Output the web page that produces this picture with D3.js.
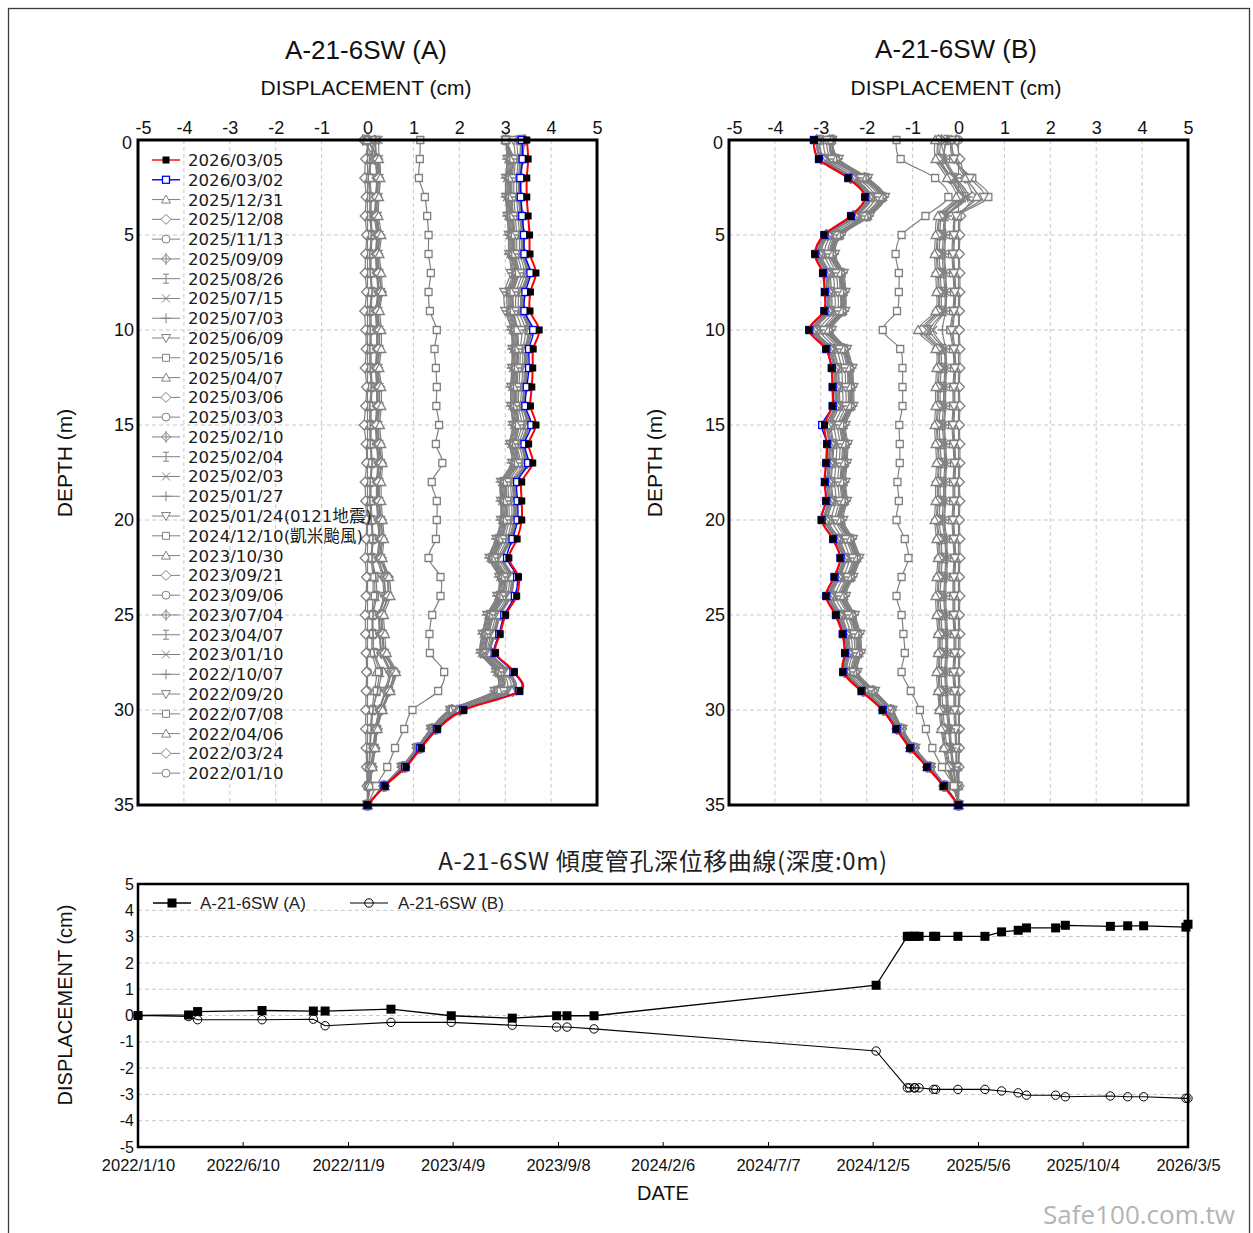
<!DOCTYPE html>
<html><head><meta charset="utf-8">
<script src="https://cdn.jsdelivr.net/npm/d3@7"></script>
<style>body{margin:0;background:#fff}svg{display:block}</style>
</head><body>
<svg id="c" width="1253" height="1233"></svg>
<script>
// ---------------- DATA ----------------
const depths = [0,1,2,3,4,5,6,7,8,9,10,11,12,13,14,15,16,17,18,19,20,21,22,23,24,25,26,27,28,29,30,31,32,33,34,35];
const seriesDates = ["2026/03/05","2026/03/02","2025/12/31","2025/12/08","2025/11/13","2025/09/09","2025/08/26","2025/07/15","2025/07/03","2025/06/09","2025/05/16","2025/04/07","2025/03/06","2025/03/03","2025/02/10","2025/02/04","2025/02/03","2025/01/27","2025/01/24","2024/12/10","2023/10/30","2023/09/21","2023/09/06","2023/07/04","2023/04/07","2023/01/10","2022/10/07","2022/09/20","2022/07/08","2022/04/06","2022/03/24","2022/01/10"];
const legendLabels = ["2026/03/05","2026/03/02","2025/12/31","2025/12/08","2025/11/13","2025/09/09","2025/08/26","2025/07/15","2025/07/03","2025/06/09","2025/05/16","2025/04/07","2025/03/06","2025/03/03","2025/02/10","2025/02/04","2025/02/03","2025/01/27","2025/01/24(0121地震)","2024/12/10(凱米颱風)","2023/10/30","2023/09/21","2023/09/06","2023/07/04","2023/04/07","2023/01/10","2022/10/07","2022/09/20","2022/07/08","2022/04/06","2022/03/24","2022/01/10"];
const markerCycle = ["triUp","diamond","circle","diamondPlus","ibeam","x","plus","triDown","square"];
const dispTicks = [-5,-4,-3,-2,-1,0,1,2,3,4,5];
const depthTicks = [0,5,10,15,20,25,30,35];
const timeTickLabels = ["2022/1/10","2022/6/10","2022/11/9","2023/4/9","2023/9/8","2024/2/6","2024/7/7","2024/12/5","2025/5/6","2025/10/4","2026/3/5"];

// Profile A (rows in legend order, values at depths 0..35, cm)
const profileA = [
[3.47,3.50,3.47,3.47,3.50,3.53,3.54,3.67,3.55,3.54,3.74,3.61,3.60,3.58,3.55,3.67,3.51,3.60,3.36,3.36,3.36,3.26,3.08,3.29,3.25,3.01,2.89,2.79,3.20,3.32,2.10,1.53,1.17,0.84,0.38,0],
[3.36,3.38,3.33,3.34,3.37,3.41,3.42,3.55,3.44,3.42,3.61,3.52,3.52,3.47,3.44,3.57,3.42,3.50,3.26,3.27,3.27,3.16,3.04,3.26,3.21,2.98,2.87,2.77,3.18,3.30,2.08,1.51,1.15,0.82,0.37,0],
[3.41,3.36,3.33,3.33,3.36,3.39,3.40,3.51,3.39,3.39,3.55,3.47,3.46,3.44,3.41,3.51,3.38,3.46,3.22,3.22,3.22,3.12,2.94,3.15,3.11,2.88,2.77,2.68,3.07,3.15,2.00,1.48,1.14,0.81,0.37,0],
[3.41,3.37,3.34,3.34,3.37,3.40,3.41,3.52,3.40,3.40,3.56,3.48,3.47,3.45,3.42,3.52,3.39,3.47,3.23,3.23,3.23,3.13,2.95,3.16,3.12,2.89,2.78,2.69,3.08,3.16,2.01,1.48,1.14,0.81,0.37,0],
[3.39,3.34,3.31,3.31,3.34,3.37,3.38,3.49,3.37,3.37,3.53,3.45,3.44,3.42,3.39,3.49,3.36,3.44,3.20,3.20,3.20,3.10,2.92,3.13,3.09,2.86,2.75,2.66,3.05,3.13,1.99,1.47,1.13,0.80,0.37,0],
[3.43,3.38,3.35,3.35,3.38,3.41,3.42,3.53,3.41,3.41,3.57,3.49,3.48,3.46,3.43,3.53,3.40,3.48,3.24,3.24,3.24,3.14,2.96,3.17,3.13,2.90,2.79,2.70,3.09,3.17,2.02,1.49,1.15,0.82,0.37,0],
[3.33,3.34,3.31,3.31,3.34,3.37,3.38,3.49,3.37,3.37,3.52,3.45,3.44,3.42,3.40,3.49,3.37,3.44,3.20,3.20,3.20,3.10,2.93,3.14,3.10,2.87,2.76,2.68,3.06,3.12,1.99,1.48,1.14,0.81,0.37,0],
[3.33,3.32,3.29,3.29,3.32,3.35,3.36,3.47,3.35,3.35,3.50,3.43,3.42,3.40,3.38,3.47,3.35,3.42,3.18,3.18,3.18,3.08,2.91,3.12,3.08,2.85,2.74,2.66,3.04,3.10,1.98,1.47,1.13,0.80,0.37,0],
[3.24,3.28,3.25,3.25,3.28,3.31,3.32,3.42,3.30,3.30,3.44,3.39,3.38,3.36,3.34,3.42,3.31,3.38,3.14,3.14,3.14,3.04,2.87,3.08,3.04,2.81,2.70,2.63,3.00,3.05,1.95,1.46,1.12,0.79,0.37,0],
[3.18,3.22,3.19,3.19,3.22,3.25,3.26,3.36,3.24,3.24,3.36,3.33,3.32,3.30,3.29,3.36,3.26,3.32,3.08,3.08,3.08,2.98,2.82,3.03,2.99,2.76,2.65,2.59,2.95,2.97,1.91,1.44,1.11,0.78,0.36,0],
[3.01,3.18,3.15,3.15,3.18,3.21,3.22,3.30,3.18,3.19,3.27,3.29,3.28,3.26,3.26,3.30,3.24,3.28,3.04,3.04,3.04,2.94,2.79,3.00,2.96,2.74,2.64,2.60,2.93,2.90,1.86,1.43,1.11,0.77,0.36,0],
[3.01,3.16,3.13,3.13,3.16,3.19,3.20,3.28,3.16,3.17,3.25,3.27,3.26,3.24,3.24,3.28,3.22,3.26,3.02,3.02,3.02,2.92,2.77,2.98,2.94,2.72,2.62,2.58,2.91,2.88,1.85,1.42,1.10,0.77,0.36,0],
[3.01,3.15,3.12,3.12,3.15,3.18,3.19,3.27,3.15,3.16,3.24,3.26,3.25,3.23,3.23,3.27,3.21,3.25,3.01,3.01,3.01,2.91,2.76,2.97,2.93,2.71,2.61,2.57,2.90,2.87,1.85,1.42,1.10,0.77,0.36,0],
[3.01,3.13,3.10,3.10,3.13,3.16,3.17,3.25,3.13,3.14,3.22,3.24,3.23,3.21,3.21,3.25,3.19,3.23,2.99,2.99,2.99,2.89,2.74,2.95,2.91,2.69,2.59,2.55,2.88,2.85,1.84,1.41,1.09,0.76,0.36,0],
[3.01,3.11,3.08,3.08,3.11,3.14,3.15,3.23,3.11,3.12,3.20,3.22,3.21,3.19,3.19,3.23,3.17,3.21,2.97,2.97,2.97,2.87,2.72,2.93,2.89,2.67,2.57,2.53,2.86,2.83,1.83,1.40,1.09,0.76,0.35,0],
[3.01,3.09,3.06,3.06,3.09,3.12,3.13,3.21,3.09,3.10,3.18,3.20,3.19,3.17,3.17,3.21,3.15,3.19,2.95,2.95,2.95,2.85,2.70,2.91,2.87,2.65,2.55,2.51,2.84,2.81,1.82,1.39,1.08,0.75,0.35,0],
[3.01,3.07,3.04,3.04,3.07,3.10,3.11,3.19,3.07,3.08,3.16,3.18,3.17,3.15,3.15,3.19,3.13,3.17,2.93,2.93,2.93,2.83,2.68,2.89,2.85,2.63,2.53,2.49,2.82,2.79,1.81,1.39,1.08,0.75,0.35,0],
[3.01,3.04,3.01,3.01,3.04,3.07,3.08,3.16,3.04,3.05,3.13,3.15,3.14,3.12,3.12,3.16,3.10,3.14,2.90,2.90,2.90,2.80,2.65,2.86,2.82,2.60,2.50,2.46,2.79,2.76,1.79,1.38,1.07,0.74,0.35,0],
[3.01,3.05,3.02,3.02,3.05,3.08,3.09,3.12,2.98,3.00,3.14,3.16,3.15,3.13,3.13,3.17,3.11,3.15,2.91,2.91,2.91,2.81,2.66,2.87,2.83,2.61,2.51,2.47,2.80,2.77,1.80,1.38,1.07,0.74,0.35,0],
[1.15,1.14,1.12,1.25,1.30,1.33,1.33,1.38,1.33,1.36,1.51,1.46,1.49,1.51,1.50,1.56,1.49,1.63,1.40,1.51,1.51,1.49,1.33,1.59,1.59,1.41,1.35,1.36,1.67,1.54,0.98,0.80,0.60,0.43,0.19,0],
[-0.01,0.25,0.28,0.25,0.24,0.3,0.26,0.3,0.32,0.27,0.3,0.3,0.26,0.3,0.3,0.27,0.3,0.33,0.3,0.3,0.33,0.36,0.33,0.47,0.5,0.36,0.38,0.42,0.62,0.5,0.33,0.22,0.17,0.11,0.06,0],
[-0.01,0.22,0.24,0.2,0.2,0.26,0.22,0.24,0.3,0.22,0.26,0.24,0.22,0.26,0.24,0.2,0.26,0.3,0.24,0.25,0.3,0.32,0.3,0.45,0.45,0.32,0.34,0.38,0.6,0.48,0.31,0.21,0.16,0.1,0.05,0],
[-0.01,0.2,0.22,0.22,0.18,0.24,0.2,0.26,0.28,0.2,0.24,0.26,0.2,0.24,0.26,0.22,0.24,0.28,0.26,0.24,0.28,0.3,0.28,0.42,0.44,0.3,0.32,0.36,0.56,0.46,0.3,0.2,0.15,0.1,0.05,0],
[-0.10,0.15,0.2,0.18,0.15,0.2,0.18,0.2,0.24,0.18,0.2,0.2,0.18,0.2,0.2,0.18,0.2,0.24,0.2,0.2,0.24,0.26,0.24,0.36,0.38,0.26,0.28,0.3,0.5,0.4,0.26,0.18,0.13,0.08,0.04,0],
[-0.01,0.05,0.02,0.05,0.06,0.08,0.05,0.06,0.1,0.05,0.06,0.05,0.06,0.08,0.05,0.06,0.06,0.1,0.06,0.05,0.08,0.12,0.1,0.18,0.2,0.12,0.12,0.15,0.3,0.22,0.12,0.08,0.06,0.04,0.02,0],
[0.24,0.25,0.26,0.24,0.22,0.26,0.24,0.26,0.3,0.24,0.26,0.26,0.24,0.26,0.26,0.24,0.26,0.3,0.26,0.26,0.3,0.32,0.3,0.42,0.45,0.32,0.34,0.38,0.58,0.47,0.32,0.21,0.16,0.1,0.05,0],
[0.17,0.2,0.22,0.2,0.2,0.22,0.2,0.22,0.25,0.2,0.22,0.22,0.2,0.22,0.22,0.2,0.22,0.25,0.22,0.22,0.25,0.27,0.25,0.35,0.38,0.27,0.28,0.32,0.5,0.4,0.27,0.18,0.13,0.09,0.04,0],
[0.17,0.18,0.2,0.18,0.18,0.2,0.18,0.2,0.22,0.18,0.2,0.2,0.18,0.2,0.2,0.18,0.2,0.22,0.2,0.2,0.22,0.25,0.22,0.32,0.35,0.25,0.26,0.3,0.46,0.38,0.25,0.17,0.12,0.08,0.04,0],
[0.19,0.08,0.06,0.08,0.08,0.1,0.08,0.08,0.1,0.08,0.08,0.08,0.08,0.1,0.08,0.08,0.08,0.1,0.08,0.08,0.1,0.12,0.1,0.15,0.16,0.12,0.12,0.14,0.25,0.2,0.12,0.08,0.06,0.04,0.02,0],
[0.15,0.06,0.04,0.06,0.05,0.08,0.06,0.06,0.08,0.05,0.06,0.06,0.05,0.08,0.06,0.05,0.06,0.08,0.06,0.06,0.08,0.1,0.08,0.12,0.12,0.1,0.1,0.1,0.2,0.15,0.1,0.06,0.05,0.03,0.02,0],
[0.02,-0.04,-0.06,-0.03,-0.05,-0.02,-0.04,-0.05,-0.02,-0.06,-0.04,-0.03,-0.05,-0.02,-0.04,-0.07,-0.03,-0.02,-0.05,-0.04,-0.02,-0.03,-0.05,-0.02,-0.03,-0.05,-0.04,-0.03,-0.02,-0.03,-0.04,-0.04,-0.03,-0.02,-0.01,0],
[0,0,0,0,0,0,0,0,0,0,0,0,0,0,0,0,0,0,0,0,0,0,0,0,0,0,0,0,0,0,0,0,0,0,0,0]
];

// Profile B
const profileB = [
[-3.15,-3.05,-2.41,-2.04,-2.35,-2.93,-3.13,-2.96,-2.92,-2.93,-3.26,-2.89,-2.77,-2.75,-2.75,-2.92,-2.87,-2.89,-2.92,-2.89,-2.99,-2.74,-2.58,-2.71,-2.89,-2.68,-2.53,-2.48,-2.52,-2.12,-1.66,-1.36,-1.06,-0.69,-0.33,0],
[-3.15,-3.04,-2.40,-2.03,-2.34,-2.92,-3.12,-2.95,-2.91,-2.92,-3.25,-2.88,-2.76,-2.74,-2.74,-2.97,-2.86,-2.88,-2.91,-2.88,-2.98,-2.73,-2.57,-2.70,-2.88,-2.67,-2.52,-2.47,-2.51,-2.11,-1.65,-1.35,-1.05,-0.68,-0.32,0],
[-3.09,-2.99,-2.35,-1.98,-2.29,-2.88,-3.07,-2.90,-2.86,-2.87,-3.19,-2.83,-2.71,-2.69,-2.69,-2.86,-2.81,-2.83,-2.86,-2.83,-2.92,-2.68,-2.52,-2.65,-2.83,-2.63,-2.48,-2.43,-2.48,-2.08,-1.63,-1.34,-1.05,-0.68,-0.32,0],
[-3.09,-2.97,-2.33,-1.96,-2.27,-2.86,-3.05,-2.88,-2.84,-2.85,-3.17,-2.81,-2.69,-2.67,-2.67,-2.84,-2.79,-2.81,-2.84,-2.81,-2.90,-2.66,-2.50,-2.63,-2.81,-2.61,-2.46,-2.41,-2.46,-2.06,-1.62,-1.33,-1.04,-0.67,-0.32,0],
[-3.06,-2.96,-2.32,-1.95,-2.26,-2.85,-3.04,-2.86,-2.82,-2.83,-3.15,-2.79,-2.67,-2.65,-2.65,-2.82,-2.77,-2.79,-2.82,-2.79,-2.89,-2.65,-2.49,-2.62,-2.80,-2.60,-2.45,-2.40,-2.46,-2.06,-1.61,-1.33,-1.04,-0.67,-0.32,0],
[-3.09,-3.00,-2.36,-1.99,-2.30,-2.89,-3.08,-2.91,-2.87,-2.88,-3.20,-2.84,-2.72,-2.70,-2.70,-2.87,-2.82,-2.84,-2.87,-2.84,-2.93,-2.69,-2.53,-2.66,-2.84,-2.64,-2.49,-2.44,-2.49,-2.09,-1.64,-1.35,-1.05,-0.68,-0.32,0],
[-3.03,-2.91,-2.27,-1.90,-2.22,-2.81,-2.99,-2.81,-2.77,-2.78,-3.10,-2.74,-2.62,-2.60,-2.60,-2.77,-2.72,-2.74,-2.77,-2.74,-2.84,-2.60,-2.45,-2.58,-2.75,-2.55,-2.41,-2.36,-2.42,-2.02,-1.59,-1.31,-1.02,-0.66,-0.31,0],
[-3.03,-2.93,-2.29,-1.92,-2.24,-2.83,-3.01,-2.83,-2.79,-2.80,-3.12,-2.76,-2.64,-2.62,-2.62,-2.79,-2.74,-2.76,-2.79,-2.76,-2.86,-2.62,-2.47,-2.60,-2.77,-2.57,-2.43,-2.38,-2.44,-2.04,-1.60,-1.32,-1.03,-0.67,-0.32,0],
[-2.94,-2.84,-2.20,-1.83,-2.15,-2.75,-2.92,-2.74,-2.70,-2.71,-3.02,-2.67,-2.55,-2.53,-2.53,-2.70,-2.65,-2.67,-2.70,-2.67,-2.76,-2.53,-2.38,-2.51,-2.68,-2.48,-2.35,-2.31,-2.37,-1.98,-1.56,-1.30,-1.01,-0.65,-0.31,0],
[-2.87,-2.77,-2.13,-1.76,-2.08,-2.69,-2.85,-2.67,-2.63,-2.64,-2.94,-2.60,-2.48,-2.46,-2.46,-2.63,-2.58,-2.60,-2.63,-2.60,-2.68,-2.46,-2.31,-2.44,-2.61,-2.41,-2.29,-2.26,-2.32,-1.93,-1.52,-1.28,-0.99,-0.63,-0.30,0],
[-2.81,-2.73,-2.09,-1.72,-2.05,-2.65,-2.81,-2.62,-2.58,-2.59,-2.89,-2.55,-2.43,-2.41,-2.41,-2.58,-2.53,-2.55,-2.58,-2.55,-2.64,-2.42,-2.28,-2.41,-2.57,-2.38,-2.25,-2.23,-2.30,-1.91,-1.50,-1.27,-0.98,-0.62,-0.30,0],
[-2.81,-2.71,-2.07,-1.70,-2.03,-2.63,-2.79,-2.60,-2.56,-2.57,-2.87,-2.53,-2.41,-2.39,-2.39,-2.56,-2.51,-2.53,-2.56,-2.53,-2.62,-2.40,-2.26,-2.39,-2.55,-2.36,-2.23,-2.21,-2.28,-1.89,-1.49,-1.26,-0.98,-0.62,-0.30,0],
[-2.81,-2.69,-2.05,-1.68,-2.01,-2.61,-2.77,-2.58,-2.54,-2.55,-2.85,-2.51,-2.39,-2.37,-2.37,-2.54,-2.49,-2.51,-2.54,-2.51,-2.60,-2.38,-2.24,-2.37,-2.53,-2.34,-2.21,-2.19,-2.26,-1.87,-1.48,-1.25,-0.97,-0.62,-0.30,0],
[-2.81,-2.68,-2.04,-1.67,-2.00,-2.60,-2.76,-2.57,-2.53,-2.54,-2.84,-2.50,-2.38,-2.36,-2.36,-2.53,-2.48,-2.50,-2.53,-2.50,-2.59,-2.37,-2.23,-2.36,-2.52,-2.33,-2.20,-2.18,-2.25,-1.86,-1.47,-1.25,-0.97,-0.61,-0.30,0],
[-2.75,-2.68,-2.04,-1.67,-2.00,-2.61,-2.76,-2.57,-2.53,-2.54,-2.83,-2.50,-2.38,-2.36,-2.36,-2.53,-2.48,-2.50,-2.53,-2.50,-2.58,-2.37,-2.23,-2.36,-2.52,-2.33,-2.21,-2.19,-2.26,-1.87,-1.47,-1.25,-0.97,-0.62,-0.30,0],
[-2.75,-2.66,-2.02,-1.65,-1.98,-2.59,-2.74,-2.55,-2.51,-2.52,-2.81,-2.48,-2.36,-2.34,-2.34,-2.51,-2.46,-2.48,-2.51,-2.48,-2.56,-2.35,-2.21,-2.34,-2.50,-2.31,-2.19,-2.17,-2.25,-1.86,-1.46,-1.24,-0.96,-0.61,-0.29,0],
[-2.75,-2.65,-2.01,-1.64,-1.97,-2.58,-2.73,-2.54,-2.50,-2.51,-2.80,-2.47,-2.35,-2.33,-2.33,-2.50,-2.45,-2.47,-2.50,-2.47,-2.55,-2.34,-2.20,-2.33,-2.49,-2.30,-2.18,-2.16,-2.24,-1.85,-1.46,-1.24,-0.96,-0.61,-0.29,0],
[-2.75,-2.63,-1.99,-1.62,-1.95,-2.56,-2.71,-2.52,-2.48,-2.49,-2.78,-2.45,-2.33,-2.31,-2.31,-2.48,-2.43,-2.45,-2.48,-2.45,-2.53,-2.32,-2.18,-2.31,-2.47,-2.28,-2.16,-2.14,-2.22,-1.84,-1.45,-1.23,-0.95,-0.60,-0.29,0],
[-2.75,-2.61,-1.97,-1.60,-1.93,-2.54,-2.69,-2.50,-2.46,-2.47,-2.76,-2.43,-2.31,-2.29,-2.29,-2.46,-2.41,-2.43,-2.46,-2.43,-2.51,-2.30,-2.16,-2.29,-2.45,-2.26,-2.14,-2.12,-2.20,-1.82,-1.44,-1.22,-0.94,-0.60,-0.28,0],
[-1.35,-1.26,-0.51,-0.22,-0.72,-1.24,-1.37,-1.30,-1.30,-1.34,-1.65,-1.27,-1.22,-1.22,-1.22,-1.29,-1.28,-1.28,-1.33,-1.30,-1.35,-1.17,-1.09,-1.24,-1.35,-1.24,-1.20,-1.17,-1.24,-1.04,-0.84,-0.71,-0.57,-0.36,-0.10,0],
[-0.51,-0.5,-0.25,-0.05,-0.45,-0.5,-0.52,-0.5,-0.48,-0.5,-0.88,-0.5,-0.48,-0.5,-0.5,-0.52,-0.5,-0.48,-0.5,-0.5,-0.52,-0.48,-0.45,-0.48,-0.5,-0.48,-0.45,-0.45,-0.48,-0.45,-0.42,-0.38,-0.32,-0.25,-0.12,0],
[-0.44,-0.45,-0.2,0.0,-0.4,-0.46,-0.48,-0.46,-0.44,-0.46,-0.8,-0.46,-0.44,-0.46,-0.46,-0.48,-0.46,-0.44,-0.46,-0.46,-0.48,-0.44,-0.42,-0.44,-0.46,-0.44,-0.42,-0.42,-0.44,-0.42,-0.4,-0.35,-0.3,-0.22,-0.1,0],
[-0.44,-0.42,-0.18,0.02,-0.38,-0.44,-0.46,-0.44,-0.42,-0.44,-0.75,-0.44,-0.42,-0.44,-0.44,-0.46,-0.44,-0.42,-0.44,-0.44,-0.46,-0.42,-0.4,-0.42,-0.44,-0.42,-0.4,-0.4,-0.42,-0.4,-0.38,-0.33,-0.28,-0.2,-0.1,0],
[-0.37,-0.4,-0.15,0.05,-0.35,-0.4,-0.42,-0.4,-0.38,-0.4,-0.7,-0.4,-0.38,-0.4,-0.4,-0.42,-0.4,-0.38,-0.4,-0.4,-0.42,-0.38,-0.36,-0.38,-0.4,-0.38,-0.36,-0.36,-0.38,-0.36,-0.34,-0.3,-0.25,-0.18,-0.08,0],
[-0.26,-0.32,-0.1,0.1,-0.28,-0.33,-0.35,-0.33,-0.3,-0.32,-0.62,-0.33,-0.3,-0.32,-0.33,-0.35,-0.32,-0.3,-0.32,-0.33,-0.35,-0.3,-0.28,-0.3,-0.32,-0.3,-0.28,-0.28,-0.3,-0.28,-0.26,-0.22,-0.18,-0.13,-0.06,0],
[-0.26,-0.3,-0.08,0.15,-0.26,-0.3,-0.32,-0.3,-0.28,-0.3,-0.55,-0.3,-0.28,-0.3,-0.3,-0.32,-0.3,-0.28,-0.3,-0.3,-0.32,-0.28,-0.26,-0.28,-0.3,-0.28,-0.26,-0.26,-0.28,-0.26,-0.24,-0.2,-0.16,-0.12,-0.05,0],
[-0.39,-0.28,-0.05,0.2,-0.25,-0.28,-0.3,-0.28,-0.26,-0.28,-0.35,-0.28,-0.26,-0.28,-0.28,-0.3,-0.28,-0.26,-0.28,-0.28,-0.3,-0.26,-0.24,-0.26,-0.28,-0.26,-0.24,-0.24,-0.26,-0.24,-0.22,-0.18,-0.15,-0.1,-0.05,0],
[-0.14,-0.1,0.25,0.55,-0.05,-0.1,-0.12,-0.1,-0.08,-0.1,-0.15,-0.1,-0.08,-0.1,-0.1,-0.12,-0.1,-0.08,-0.1,-0.1,-0.12,-0.1,-0.08,-0.1,-0.1,-0.1,-0.08,-0.08,-0.1,-0.08,-0.08,-0.06,-0.05,-0.04,-0.02,0],
[-0.16,-0.12,0.3,0.65,-0.02,-0.12,-0.14,-0.12,-0.1,-0.12,-0.18,-0.12,-0.1,-0.12,-0.12,-0.14,-0.12,-0.1,-0.12,-0.12,-0.14,-0.12,-0.1,-0.12,-0.12,-0.12,-0.1,-0.1,-0.12,-0.1,-0.1,-0.08,-0.06,-0.05,-0.02,0],
[-0.16,-0.08,0.15,0.4,-0.04,-0.08,-0.1,-0.08,-0.06,-0.08,-0.12,-0.08,-0.06,-0.08,-0.08,-0.1,-0.08,-0.06,-0.08,-0.08,-0.1,-0.08,-0.06,-0.08,-0.08,-0.08,-0.06,-0.06,-0.08,-0.06,-0.06,-0.05,-0.04,-0.03,-0.01,0],
[-0.04,0.03,0.15,0.3,0.05,0.03,0.02,0.03,0.03,0.02,0.02,0.03,0.03,0.02,0.03,0.02,0.03,0.03,0.02,0.03,0.02,0.03,0.03,0.02,0.03,0.02,0.03,0.03,0.02,0.03,0.02,0.02,0.02,0.01,0.01,0],
[0,0,0,0,0,0,0,0,0,0,0,0,0,0,0,0,0,0,0,0,0,0,0,0,0,0,0,0,0,0,0,0,0,0,0,0]
];

// ---------------- DRAWING ----------------
const svg = d3.select("#c");
const SANS = "'Liberation Sans', Arial, sans-serif";
const LEG = "'DejaVu Sans', 'Noto Sans CJK TC', sans-serif";
const GRAY = "#808080";
const GRID = "#c8c8c8";
const plainFmt = d => String(d);

svg.append("rect").attr("x",8.5).attr("y",8.5).attr("width",1241).attr("height",1240)
  .attr("fill","none").attr("stroke","#3a3a3a").attr("stroke-width",1.3);

function kindFor(i){ if(i===0) return "sqFill"; if(i===1) return "sqBlue"; return markerCycle[(i-2)%markerCycle.length]; }
function colorFor(i){ return i===0 ? "#ff0000" : (i===1 ? "#0000ff" : GRAY); }

function drawMarker(g, kind, cx, cy, stroke, sw){
  sw = sw || 1.3;
  if(kind==="sqFill"){ g.append("rect").attr("x",cx-3.5).attr("y",cy-3.5).attr("width",7).attr("height",7).attr("fill","#000"); return; }
  if(kind==="sqBlue"){ g.append("rect").attr("x",cx-3.5).attr("y",cy-3.5).attr("width",7).attr("height",7).attr("fill","#fff").attr("stroke","#0000ff").attr("stroke-width",1.3); return; }
  const P = (d)=>g.append("path").attr("d",d).attr("fill","#fff").attr("stroke",stroke).attr("stroke-width",sw);
  const L = (d)=>g.append("path").attr("d",d).attr("fill","none").attr("stroke",stroke).attr("stroke-width",sw);
  switch(kind){
    case "triUp": P(`M${cx},${cy-4.5}L${cx+4.5},${cy+3.5}L${cx-4.5},${cy+3.5}Z`); break;
    case "triDown": P(`M${cx},${cy+4.5}L${cx+4.5},${cy-3.5}L${cx-4.5},${cy-3.5}Z`); break;
    case "diamond": P(`M${cx},${cy-5}L${cx+5},${cy}L${cx},${cy+5}L${cx-5},${cy}Z`); break;
    case "circle": g.append("circle").attr("cx",cx).attr("cy",cy).attr("r",4).attr("fill","#fff").attr("stroke",stroke).attr("stroke-width",sw); break;
    case "diamondPlus": P(`M${cx},${cy-4.5}L${cx+4.5},${cy}L${cx},${cy+4.5}L${cx-4.5},${cy}Z`); L(`M${cx},${cy-6}V${cy+6}M${cx-4.5},${cy}H${cx+4.5}`); break;
    case "ibeam": L(`M${cx},${cy-4.5}V${cy+4.5}M${cx-3},${cy-4.5}H${cx+3}M${cx-3},${cy+4.5}H${cx+3}`); break;
    case "x": L(`M${cx-4},${cy-4}L${cx+4},${cy+4}M${cx-4},${cy+4}L${cx+4},${cy-4}`); break;
    case "plus": L(`M${cx},${cy-5}V${cy+5}M${cx-5},${cy}H${cx+5}`); break;
    case "square": P(`M${cx-3.5},${cy-3.5}h7v7h-7Z`); break;
  }
}

function drawProfile(x0, data, title, cx, titleY, withLegend, depthLabelX){
  const x1 = x0 + 459, y0 = 140, y1 = 805;
  const x = d3.scaleLinear().domain([-5,5]).range([x0,x1]);
  const y = d3.scaleLinear().domain([0,35]).range([y0,y1]);
  const g = svg.append("g");
  g.selectAll(".vg").data(dispTicks.slice(1,-1)).enter().append("line")
    .attr("x1",d=>x(d)).attr("x2",d=>x(d)).attr("y1",y0).attr("y2",y1)
    .attr("stroke",GRID).attr("stroke-dasharray","4,3");
  g.selectAll(".hg").data(depthTicks.slice(1,-1)).enter().append("line")
    .attr("x1",x0).attr("x2",x1).attr("y1",d=>y(d)).attr("y2",d=>y(d))
    .attr("stroke",GRID).attr("stroke-dasharray","4,3");
  svg.append("text").attr("x",cx).attr("y",titleY).attr("text-anchor","middle")
    .attr("font-family",SANS).attr("font-size",26).attr("fill","#111").text(title);
  svg.append("text").attr("x",cx).attr("y",95).attr("text-anchor","middle")
    .attr("font-family",SANS).attr("font-size",21).attr("fill","#111").text("DISPLACEMENT (cm)");
  svg.append("text").attr("transform",`translate(${depthLabelX},463) rotate(-90)`).attr("text-anchor","middle")
    .attr("font-family",SANS).attr("font-size",21).attr("fill","#111").text("DEPTH (m)");
  const ax = svg.append("g").attr("transform",`translate(0,${y0})`)
    .call(d3.axisTop(x).tickValues(dispTicks).tickSize(0).tickPadding(6).tickFormat(plainFmt));
  ax.select(".domain").remove();
  ax.selectAll("text").attr("font-family",SANS).attr("font-size",18).attr("fill","#111");
  ax.selectAll("text").filter(d=>d===dispTicks[0]).attr("text-anchor","start").attr("x",-3);
  const ay = svg.append("g").attr("transform",`translate(${x0},0)`)
    .call(d3.axisLeft(y).tickValues(depthTicks).tickSize(0).tickPadding(4).tickFormat(plainFmt));
  ay.select(".domain").remove();
  ay.selectAll("text").attr("font-family",SANS).attr("font-size",18).attr("fill","#111");
  ay.selectAll("text").filter(d=>d===depthTicks[0]).attr("x",-6).attr("dy","0.45em");
  const line = d3.line().x(d=>x(d[0])).y(d=>y(d[1])).curve(d3.curveCardinal.tension(0));
  for(let i=data.length-1;i>=0;i--){
    const pts = data[i].map((v,k)=>[v, depths[k]]);
    const sg = g.append("g");
    sg.append("path").attr("d",line(pts)).attr("fill","none").attr("stroke",colorFor(i))
      .attr("stroke-width", i===0?2:(i===1?1.4:1.2));
    const kind = kindFor(i);
    pts.forEach(p=>drawMarker(sg, kind, x(p[0]), y(p[1]), GRAY));
  }
  if(withLegend){
    const lg = svg.append("g");
    legendLabels.forEach((lab,i)=>{
      const ly = 160 + i*19.78;
      lg.append("line").attr("x1",152).attr("x2",180).attr("y1",ly).attr("y2",ly)
        .attr("stroke",colorFor(i)).attr("stroke-width", i<2?1.4:1);
      drawMarker(lg, kindFor(i), 166, ly, GRAY, 1);
      lg.append("text").attr("x",188).attr("y",ly).attr("dy","0.36em")
        .attr("font-family",LEG).attr("font-size",16.6).attr("fill","#1a1a1a").text(lab);
    });
  }
  svg.append("rect").attr("x",x0).attr("y",y0).attr("width",x1-x0).attr("height",y1-y0)
    .attr("fill","none").attr("stroke","#000").attr("stroke-width",3);
}

drawProfile(138, profileA, "A-21-6SW (A)", 366, 59, true, 72);
drawProfile(729, profileB, "A-21-6SW (B)", 956, 58, false, 662);

// ---------------- TIME SERIES ----------------
(function(){
  const parse = d3.timeParse("%Y/%m/%d");
  const x0=138, x1=1188, y0=884, y1=1147;
  const tickDates = timeTickLabels.map(parse);
  const x = d3.scaleTime().domain([tickDates[0], tickDates[tickDates.length-1]]).range([x0,x1]);
  const y = d3.scaleLinear().domain([-5,5]).range([y1,y0]);
  const g = svg.append("g");
  g.selectAll(".hg").data(dispTicks.slice(1,-1)).enter().append("line")
    .attr("x1",x0).attr("x2",x1).attr("y1",d=>y(d)).attr("y2",d=>y(d))
    .attr("stroke",GRID).attr("stroke-dasharray","4,3");
  svg.append("text").attr("x",663).attr("y",870).attr("text-anchor","middle")
    .attr("font-family","'Noto Sans CJK TC', sans-serif").attr("font-size",24).attr("letter-spacing",0.6).attr("fill","#222")
    .text("A-21-6SW 傾度管孔深位移曲線(深度:0m)");
  svg.append("text").attr("x",663).attr("y",1200).attr("text-anchor","middle")
    .attr("font-family",SANS).attr("font-size",20).attr("fill","#111").text("DATE");
  svg.append("text").attr("transform","translate(72,1005) rotate(-90)").attr("text-anchor","middle")
    .attr("font-family",SANS).attr("font-size",20).attr("fill","#111").text("DISPLACEMENT (cm)");
  const ax = svg.append("g").attr("transform",`translate(0,${y1})`)
    .call(d3.axisBottom(x).tickValues(tickDates).tickSize(-5).tickPadding(12).tickFormat((d,i)=>timeTickLabels[i]));
  ax.select(".domain").remove();
  ax.selectAll("line").attr("stroke","#000");
  ax.selectAll("text").attr("font-family",SANS).attr("font-size",16.5).attr("fill","#111");
  const ay = svg.append("g").attr("transform",`translate(${x0},0)`)
    .call(d3.axisLeft(y).tickValues(dispTicks).tickSize(0).tickPadding(4).tickFormat(plainFmt));
  ay.select(".domain").remove();
  ay.selectAll("text").attr("font-family",SANS).attr("font-size",16).attr("fill","#111");

  const dates = seriesDates.map(parse).reverse();
  const topA = profileA.map(r=>r[0]).reverse();
  const topB = profileB.map(r=>r[0]).reverse();
  const line = d3.line().x(d=>x(d[0])).y(d=>y(d[1]));
  const ptsA = dates.map((d,i)=>[d, topA[i]]);
  const ptsB = dates.map((d,i)=>[d, topB[i]]);
  g.append("path").attr("d",line(ptsB)).attr("fill","none").attr("stroke","#000").attr("stroke-width",1.1);
  ptsB.forEach(p=>g.append("circle").attr("cx",x(p[0])).attr("cy",y(p[1])).attr("r",4.2)
    .attr("fill","none").attr("stroke","#000").attr("stroke-width",1));
  g.append("path").attr("d",line(ptsA)).attr("fill","none").attr("stroke","#000").attr("stroke-width",1.3);
  ptsA.forEach(p=>g.append("rect").attr("x",x(p[0])-4.5).attr("y",y(p[1])-4.5).attr("width",9).attr("height",9).attr("fill","#000"));
  const lg = svg.append("g");
  lg.append("line").attr("x1",153).attr("x2",191).attr("y1",903).attr("y2",903).attr("stroke","#000").attr("stroke-width",1.3);
  lg.append("rect").attr("x",167.5).attr("y",898.5).attr("width",9).attr("height",9).attr("fill","#000");
  lg.append("text").attr("x",200).attr("y",903).attr("dy","0.36em").attr("font-family",SANS).attr("font-size",17).attr("fill","#222").text("A-21-6SW (A)");
  lg.append("line").attr("x1",350).attr("x2",388).attr("y1",903).attr("y2",903).attr("stroke","#000").attr("stroke-width",1.1);
  lg.append("circle").attr("cx",369).attr("cy",903).attr("r",4.2).attr("fill","none").attr("stroke","#000");
  lg.append("text").attr("x",398).attr("y",903).attr("dy","0.36em").attr("font-family",SANS).attr("font-size",17).attr("fill","#222").text("A-21-6SW (B)");
  svg.append("rect").attr("x",x0).attr("y",y0).attr("width",x1-x0).attr("height",y1-y0)
    .attr("fill","none").attr("stroke","#000").attr("stroke-width",2.5);
})();

svg.append("text").attr("x",1235).attr("y",1224).attr("text-anchor","end")
  .attr("font-family","'Open Sans', sans-serif").attr("font-size",26).attr("fill","#b4b4b4").text("Safe100.com.tw");
</script>
</body></html>
